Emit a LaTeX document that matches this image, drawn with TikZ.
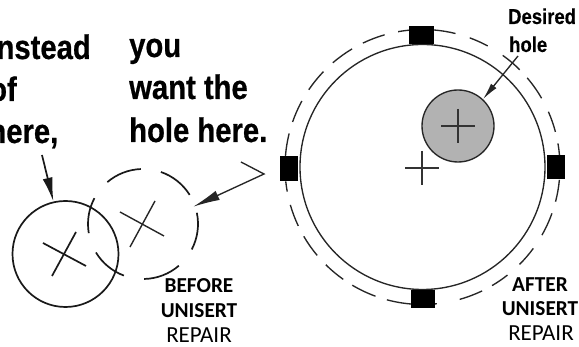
\documentclass[tikz,border=0pt]{standalone}
\usepackage{fontspec}
\usetikzlibrary{arrows.meta,calc}
\setmainfont{Liberation Sans}
\newfontfamily\headfont[FakeStretch=0.86,FakeBold=0.6]{Liberation Sans Bold}
\newfontfamily\desfont[FakeStretch=0.86,FakeBold=0.4]{Liberation Sans Bold}
\newfontfamily\labelb{Carlito Bold}
\newfontfamily\labelr{Carlito}
\tikzset{
  headtxt/.style={inner sep=0pt,font=\headfont\fontsize{34}{34}\selectfont},
  desiredtxt/.style={inner sep=0pt,font=\desfont\fontsize{21.5}{22}\selectfont},
  boldlab/.style={inner sep=0pt,anchor=base,font=\labelb\fontsize{21.3}{24}\selectfont},
  reglab/.style={inner sep=0pt,anchor=base,font=\labelr\fontsize{23}{24}\selectfont},
  outline/.style={draw=black!85,line width=1.35pt},
  heavyln/.style={draw=black!90,line width=1.7pt},
  midln/.style={draw=black!85,line width=1.4pt},
  thinln/.style={draw=black!80,line width=1.1pt},
  pad/.style={fill=black,draw=none,inner sep=0pt,rectangle},
}
\begin{document}
\begin{tikzpicture}[x=1pt,y=1pt]
\useasboundingbox (0,0) rectangle (579,347);
% headings
\node[headtxt,anchor=base east] (t1) at (91,288) {instead};
\node[headtxt,anchor=base east] (t2) at (17,246) {of};
\node[headtxt,anchor=base east] (t3) at (58.5,204) {here,};
\node[headtxt,anchor=base west] (t4) at (129,290) {you};
\node[headtxt,anchor=base west] (t5) at (129,248) {want the};
\node[headtxt,anchor=base west] (t6) at (129,205) {hole here.};
\node[desiredtxt,anchor=base west] (t7) at (508,323) {Desired};
\node[desiredtxt,anchor=base west] (t8) at (509,295) {hole};
\node[boldlab] (b1) at (199,54) {BEFORE};
\node[boldlab] (b2) at (199,29) {UNISERT};
\node[reglab] (b3) at (199,4) {REPAIR};
\node[boldlab] (a1) at (540,55) {AFTER};
\node[boldlab] (a2) at (540,31) {UNISERT};
\node[reglab] (a3) at (541,6) {REPAIR};
% left hole
\node[circle,inner sep=0pt,heavyln,minimum size=106pt] (leftc) at (65.5,93) {};
\draw[heavyln] (43,104) -- (86,81);
\draw[heavyln] (52,71) -- (76,115);
% dashed hole
\coordinate (dc) at (143,123);
\foreach \a/\b in {130.4/92.3,71/32,11.8/-27.6,-49.3/-88.8,-110.3/-148.8,189.6/152}
  \draw[heavyln] (dc) ++(\a:55) arc[start angle=\a,end angle=\b,radius=55];
\draw[midln] (120,135) -- (164,111);
\draw[midln] (130,100) -- (155,146);
% arrows on the left
\coordinate (s1) at (42,192);
\draw[heavyln,-{Latex[length=24pt,width=10pt]}] (s1) -- (leftc.103);
\coordinate (s2) at (241,185);
\coordinate (s3) at (264,173);
\coordinate (s4) at ($(dc)+(19:53)$);
\draw[outline,-{Latex[length=27pt,width=10pt]}] (s2) -- (s3) -- (s4);
% large hole
\node[circle,inner sep=0pt,outline,minimum size=245pt] (bigc) at (422.5,180) {};
\coordinate (oc) at (422.5,180);
\foreach \a/\b in {85.2/76.1,69.9/61.7,54.3/45,40.4/30,23.7/14.8,9.9/5,-5.4/-14.6,-19.7/-29.7,-36.3/-45.1,-51.8/-59.6,-64.3/-74.3,-84/-86,-93/-105,-110/-120.7,-125.2/-134.7,-140/-149.7,-154.6/-164,-169.7/-174,175.4/165.9,160.9/151.3,145.8/136.1,130.7/120.8,115.7/106,100.2/95.5}
  \draw[outline] (oc) ++(\a:137.5) arc[start angle=\a,end angle=\b,radius=137.5];
% pads
\node[pad,minimum width=25pt,minimum height=18pt] (ptop) at (421.5,312) {};
\node[pad,minimum width=24pt,minimum height=18pt] (pbot) at (423,48) {};
\node[pad,minimum width=18pt,minimum height=25pt] (plft) at (289,178.5) {};
\node[pad,minimum width=18pt,minimum height=24pt] (prgt) at (556,180) {};
% desired hole
\node[circle,inner sep=0pt,outline,minimum size=72pt,fill=black!30] (hole) at (458,221) {};
\draw[thinln] (441,221) -- (475,221);
\draw[thinln] (458,238) -- (458,204);
\draw[thinln] (405,179) -- (439,179);
\draw[thinln] (422,196) -- (422,162);
\coordinate (s5) at (518,291);
\draw[outline,-{Latex[length=17pt,width=7pt]}] (s5) -- (hole.47);
\end{tikzpicture}
\end{document}
